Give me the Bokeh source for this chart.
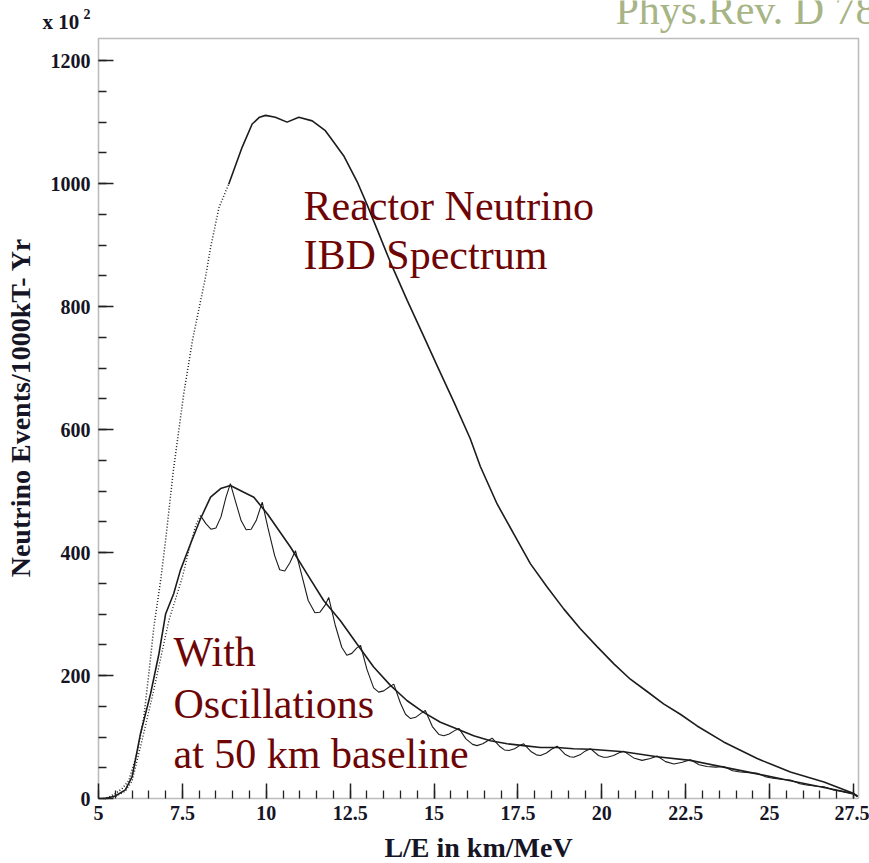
import math
import numpy as np
from bokeh.plotting import figure
from bokeh.models import Range1d, FixedTicker, Label, BoxAnnotation
from bokeh.embed import file_html
from bokeh.resources import INLINE

# ---------------- data ----------------
reactor_x = [5.15, 5.3, 5.5, 5.7, 5.9, 6.15, 6.35, 6.5, 6.65, 6.85, 7.0, 7.23, 7.54, 7.8,
             8.19, 8.34, 8.59, 8.88, 9.28, 9.58, 9.8, 9.98, 10.27, 10.62, 10.97, 11.37,
             11.76, 11.91, 12.31, 12.71, 13.01, 13.30, 13.70, 14.20, 14.69, 15.09, 15.59,
             16.08, 16.38, 16.88, 17.38, 17.87, 18.37, 18.87, 19.36, 19.86, 20.36, 20.85,
             21.35, 21.84, 22.34, 22.84, 23.63, 24.63, 25.62, 26.62, 27.51, 27.62]
reactor_y = [0, 2, 8, 16, 29, 73, 132, 203, 279, 354, 420, 533, 658, 745,
             848, 896, 961, 999, 1059, 1097, 1108, 1111, 1108, 1100, 1108, 1102,
             1086, 1075, 1045, 1003, 965, 926, 872, 810, 752, 704, 645,
             585, 540, 479, 430, 382, 344, 308, 276, 247, 219, 194,
             174, 154, 137, 118, 92, 65, 43, 27, 8, 3]

smooth_x = [5.2, 5.5, 5.8, 6.0, 6.25, 6.55, 6.8, 7.0, 7.24, 7.44, 7.74, 8.04, 8.34, 8.64,
            8.93, 9.33, 9.63, 10.03, 10.72, 11.22, 11.71, 12.21, 12.71, 13.2, 13.7, 14.2,
            14.69, 15.19, 15.69, 16.18, 16.68, 17.18, 17.67, 18.17, 18.67, 19.16, 19.66,
            20.16, 20.65, 21.65, 22.64, 23.63, 24.63, 25.62, 26.62, 27.5, 27.62]
smooth_y = [0, 4, 14, 35, 105, 170, 235, 300, 333, 371, 414, 455, 490, 504,
            509, 498, 490, 463, 409, 365, 322, 289, 251, 214, 184, 159,
            140, 124, 113, 102, 94, 89, 86, 83, 83, 81, 80,
            78, 76, 68, 62, 51, 40, 29, 18, 8, 4]

osc_x = [5.25, 5.5, 5.8, 6.0, 6.3, 6.6, 6.9, 7.1, 7.3, 7.5, 7.7, 7.9, 8.04,
         8.2, 8.35, 8.5, 8.65, 8.8, 8.93, 9.1, 9.25, 9.4, 9.55, 9.7, 9.88,
         10.05, 10.25, 10.4, 10.55, 10.7, 10.87, 11.05, 11.25, 11.45, 11.6, 11.75, 11.86,
         12.05, 12.25, 12.4, 12.55, 12.7, 12.81, 13.0, 13.2, 13.35, 13.5, 13.65, 13.8,
         14.0, 14.15, 14.3, 14.45, 14.6, 14.74, 14.95, 15.15, 15.29, 15.45, 15.6, 15.74,
         15.95, 16.15, 16.28, 16.45, 16.6, 16.73, 16.95, 17.1, 17.23, 17.4, 17.55, 17.67,
         17.9, 18.05, 18.17, 18.35, 18.5, 18.67, 18.9, 19.05, 19.16, 19.35, 19.5, 19.66,
         19.9, 20.05, 20.16, 20.35, 20.5, 20.65, 20.95, 21.2, 21.45, 21.65, 21.9, 22.15,
         22.4, 22.64, 22.9, 23.13, 23.4, 23.63, 23.9, 24.12, 24.4, 24.63, 24.9, 25.1,
         25.4, 25.62, 25.9, 26.1, 26.4, 26.62, 26.9, 27.1, 27.5, 27.62]
osc_y = [0, 3, 12, 28, 95, 165, 240, 290, 325, 360, 405, 445, 460,
         447, 438, 440, 458, 490, 512, 480, 452, 437, 438, 452, 482,
         440, 395, 372, 370, 383, 403, 365, 322, 302, 303, 314, 327,
         283, 246, 233, 236, 245, 249, 210, 180, 173, 175, 181, 186,
         155, 137, 130, 132, 138, 143, 117, 104, 102, 105, 110, 114,
         97, 88, 86, 89, 94, 98, 85, 79, 78, 81, 86, 89,
         76, 71, 70, 74, 80, 85, 72, 68, 67, 71, 77, 81,
         70, 67, 67, 70, 74, 77, 66, 62, 65, 69, 60, 56,
         59, 63, 55, 52, 51, 52, 45, 43, 42, 41, 35, 33,
         31, 30, 24, 22, 20, 19, 14, 12, 7, 3]

x_ticks = [5, 7.5, 10, 12.5, 15, 17.5, 20, 22.5, 25, 27.5]
x_tick_labels = ["5", "7.5", "10", "12.5", "15", "17.5", "20", "22.5", "25", "27.5"]
y_ticks = [0, 200, 400, 600, 800, 1000, 1200]
y_tick_labels = ["0", "200", "400", "600", "800", "1000", "1200"]

# ---------------- layout ----------------
W, H = 869, 863
X0, X1 = 5.0, 27.65          # data limits of the plotting box
Y0, Y1 = 0.0, 1236.0
FL, FR, FT, FB = 98, 858, 38, 798   # plotting box edges in page pixels
ux = (X1 - X0) / (FR - FL)   # data units per pixel
uy = (Y1 - Y0) / (FB - FT)
SHIFT = 0.38                 # measured baseline shift of Label text, in em


def dx(px):
    return X0 + (px - FL) * ux


def dy(py):
    return Y0 + (FB - py) * uy


# the frame covers the whole canvas, so texts outside the box are not clipped
p = figure(width=W, height=H, output_backend="svg", toolbar_location=None,
           x_range=Range1d(dx(0), dx(W)), y_range=Range1d(dy(H), dy(0)),
           min_border=0, min_border_left=0, min_border_right=0,
           min_border_top=0, min_border_bottom=0)
p.title.visible = False
p.background_fill_color = "white"
p.border_fill_color = "white"
p.outline_line_color = None
p.xgrid.visible = False
p.ygrid.visible = False

p.xaxis.fixed_location = Y0
p.yaxis.fixed_location = X0
p.xaxis.ticker = FixedTicker(ticks=x_ticks, minor_ticks=list(np.arange(5, 27.51, 0.5)))
p.yaxis.ticker = FixedTicker(ticks=y_ticks, minor_ticks=list(range(0, 1236, 50)))
p.xaxis.major_label_overrides = {t: s for t, s in zip(x_ticks, x_tick_labels)}
p.yaxis.major_label_overrides = {t: s for t, s in zip(y_ticks, y_tick_labels)}

ink_axis = "#222222"
label_col = "#151525"
for ax in (p.xaxis, p.yaxis):
    ax.axis_line_color = None
    ax.major_tick_line_color = ink_axis
    ax.minor_tick_line_color = ink_axis
    ax.major_tick_line_width = 1.5
    ax.minor_tick_line_width = 1.3
    ax.major_tick_in = 15
    ax.major_tick_out = 0
    ax.minor_tick_in = 8
    ax.minor_tick_out = 0
    ax.major_label_text_font = "Liberation Serif"
    ax.major_label_text_font_style = "bold"
    ax.major_label_text_font_size = "20px"
    ax.major_label_text_color = label_col
p.xaxis.major_label_standoff = 7
p.yaxis.major_label_standoff = 8

# plotting box
p.add_layout(BoxAnnotation(left=X0, right=X1, bottom=Y0, top=Y1,
                           fill_color=None, fill_alpha=0,
                           line_color=ink_axis, line_width=1.6))

# ---------------- curves ----------------
rx, ry = np.array(reactor_x), np.array(reactor_y)
sx, sy = np.array(smooth_x), np.array(smooth_y)
ox, oy = np.array(osc_x), np.array(osc_y)
ink = "#1c1c1c"

m = rx <= 8.88
p.line(rx[m], ry[m], line_color=ink, line_width=1.5, line_dash="1 2")
m = rx >= 8.88
p.line(rx[m], ry[m], line_color=ink, line_width=1.6)

p.line(sx, sy, line_color=ink, line_width=1.6)

m = ox <= 8.04
p.line(ox[m], oy[m], line_color=ink, line_width=1.3, line_dash="1 2")
m = ox >= 8.04
p.line(ox[m], oy[m], line_color=ink, line_width=1.1)


# ---------------- texts ----------------
def text(txt, px, py, size, color, style="normal", align="left", angle=0.0):
    """px, py: wanted baseline position in page pixels."""
    if angle == 0.0:
        ly = py - SHIFT * size
        lx = px
    else:  # rotated a quarter turn: the shift acts along x
        lx = px - SHIFT * size
        ly = py
    p.add_layout(Label(x=dx(lx), y=dy(ly), text=txt, text_font="Liberation Serif",
                       text_font_size=f"{size}px", text_font_style=style,
                       text_color=color, angle=angle,
                       text_baseline="alphabetic", text_align=align))


red = "#6e0505"
for txt, px, py in [("Reactor Neutrino", 303, 221), ("IBD Spectrum", 303, 270),
                    ("With", 173, 667), ("Oscillations", 173, 719),
                    ("at 50 km baseline", 173, 769)]:
    text(txt, px, py, 42, red)

text("Phys.Rev. D 78", 615, 25, 42, "#a7b486")
text("x 10", 42, 29, 21, label_col, style="bold")
text("2", 83, 19, 14, label_col, style="bold")

# axis titles
text("L/E in km/MeV", 478, 858, 28, label_col, style="bold", align="center")
text("Neutrino Events/1000kT- Yr", 31, 407, 28, label_col, style="bold",
     align="center", angle=math.pi / 2)

open("out.html", "w").write(file_html(p, INLINE))
